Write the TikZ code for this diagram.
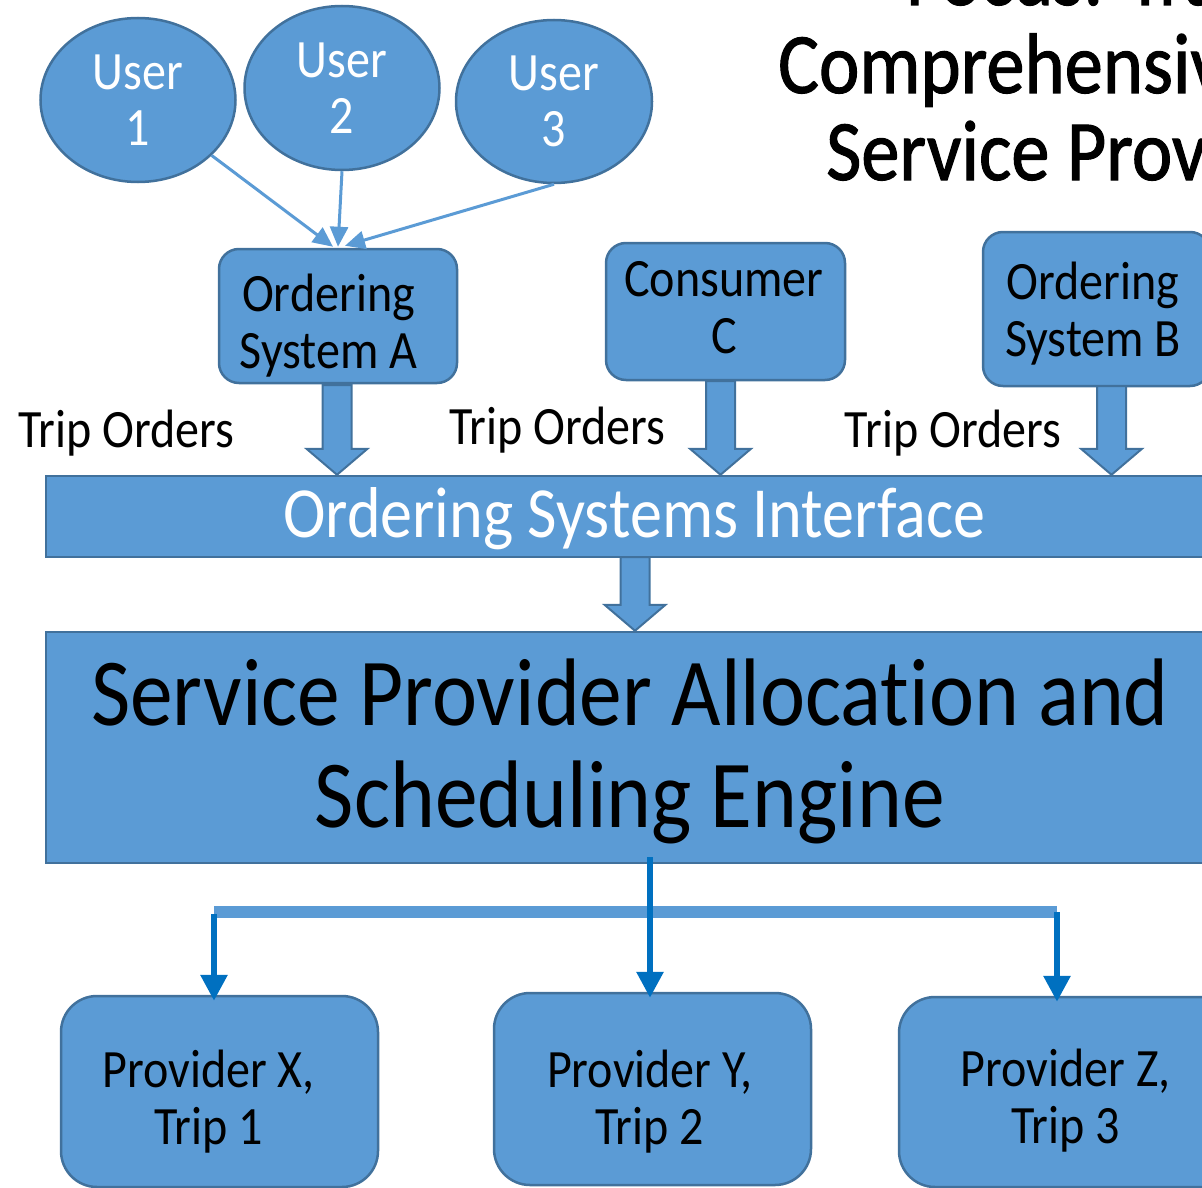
\documentclass[tikz,border=0pt]{standalone}
\usepackage{fontspec}
\setmainfont{Carlito}[FakeStretch=0.89, Ligatures=NoCommon]
\usetikzlibrary{shapes.geometric,arrows.meta,calc}
\definecolor{boxfill}{HTML}{5B9BD5}
\definecolor{boxline}{HTML}{41719C}
\definecolor{linkblue}{HTML}{0070C0}

% block arrow from a named top point down to the level of a node anchor
\newcommand\blockarr[2]{%
  \draw[blockarrow] let \p1=(#1), \p2=(#1 |- #2) in
    (\x1-14.5pt,\y1) -- (\x1+14.5pt,\y1) -- (\x1+14.5pt,\y2+26pt)
    -- (\x1+30.5pt,\y2+26pt) -- (\x1,\y2) -- (\x1-30.5pt,\y2+26pt)
    -- (\x1-14.5pt,\y2+26pt) -- cycle;}

\begin{document}
\begin{tikzpicture}[x=1pt,y=-1pt,
  filledshape/.style={draw=boxline, fill=boxfill, line width=2.5pt, inner sep=0pt},
  user/.style={filledshape, ellipse, text=white, align=center, font=\fontsize{54}{56}\selectfont},
  sysbox/.style={filledshape, rectangle, rounded corners=20pt},
  provbox/.style={filledshape, rectangle, rounded corners=36pt},
  widebar/.style={filledshape, rectangle},
  boxtext/.style={inner sep=0pt, align=center, font=\fontsize{54}{57}\selectfont},
  triplabel/.style={anchor=base, inner sep=0pt, font=\fontsize{54}{56}\selectfont},
  titleline/.style={anchor=base west, inner sep=0pt,
    font=\fontsize{86}{87}\selectfont\addfontfeature{FakeBold=1.2}},
  userlink/.style={draw=boxfill, line width=3pt, -{Triangle[length=20pt,width=18pt]}},
  blockarrow/.style={draw=boxline, fill=boxfill, line width=2pt, line join=miter},
  trunk/.style={draw=boxfill, line width=12pt},
  branch/.style={draw=linkblue, line width=6pt, -{Triangle[length=26pt,width=26pt]}, shorten >=-6pt}
]
\useasboundingbox (0,0) rectangle (1202,1188);
\clip (0,0) rectangle (1202,1188);

% title
\node[titleline] (t1) at (906,5) {Focus: Transportation};
\node[titleline] (t2) at (778,93) {Comprehensive};
\node[titleline] (t3) at (826,180) {Service Provider};

% users
\node[user, minimum width=195pt, minimum height=164pt] (u1) at (138,100) {User\\1};
\node[user, minimum width=195pt, minimum height=164pt] (u2) at (342,88) {User\\2};
\node[user, minimum width=196pt, minimum height=163pt] (u3) at (554,101.5) {User\\3};

% ordering systems
\node[sysbox, minimum width=238pt, minimum height=134pt] (osa) at (338,316) {};
\node[sysbox, minimum width=239pt, minimum height=137pt] (cc) at (725.5,311.5) {};
\node[sysbox, minimum width=227pt, minimum height=154pt] (osb) at (1096.5,309) {};
\node[boxtext] (osa-t) at (328.5,326) {Ordering\\System A};
\node[boxtext] (cc-t) at (724,307.5) {Consumer\\C};
\node[boxtext] (osb-t) at (1093,314) {Ordering\\System B};

% user links
\draw[userlink] (u1) -- ($(osa.north)+(-5,-1)$);
\draw[userlink] (u2.south) -- ($(osa.north)+(0,-1)$);
\draw[userlink] (u3.south) -- ($(osa.north)+(7,-2)$);

% interface and engine
\node[widebar, minimum width=1168pt, minimum height=81pt] (osi) at (630,516.5) {};
\node[anchor=base, inner sep=0pt, text=white, font=\fontsize{72}{74}\selectfont]
  (osi-t) at (634,537) {Ordering Systems Interface};
\node[widebar, minimum width=1168pt, minimum height=231pt] (eng) at (630,747.5) {};
\node[inner sep=0pt, align=center, font=\fontsize{96}{102}\selectfont]
  (eng-t) at (630,751.5) {Service Provider Allocation and\\Scheduling Engine};

% trip order labels
\node[triplabel] (l1) at (126.5,447) {Trip Orders};
\node[triplabel] (l2) at (557.5,444) {Trip Orders};
\node[triplabel] (l3) at (953,447) {Trip Orders};

% block arrows
\coordinate (aa) at (337,385);
\coordinate (ac) at (720.5,381);
\coordinate (ab) at (1111.5,386);
\coordinate (ai) at (635,557);
\blockarr{aa}{osi.north}
\blockarr{ac}{osi.north}
\blockarr{ab}{osi.north}
\blockarr{ai}{eng.north}

% providers
\node[provbox, minimum width=317pt, minimum height=191pt] (px) at (219.5,1091.5) {};
\node[provbox, minimum width=317pt, minimum height=192pt] (py) at (652.5,1089) {};
\node[provbox, minimum width=354pt, minimum height=190pt] (pz) at (1076,1092) {};
\node[boxtext] (px-t) at (208.5,1101.5) {Provider X,\\Trip 1};
\node[boxtext] (py-t) at (649.5,1102) {Provider Y,\\Trip 2};
\node[boxtext] (pz-t) at (1065.5,1101) {Provider Z,\\Trip 3};

% distribution links
\coordinate (jl) at (214,912);
\coordinate (jr) at (1057,912);
\coordinate (em) at (650,857);
\draw[trunk] (jl) -- (jr);
\draw[branch] (em) -- (em |- py.north);
\draw[branch] ($(jl)+(0,2)$) -- (jl |- px.north);
\draw[branch] (jr) -- (jr |- pz.north);
\end{tikzpicture}
\end{document}
